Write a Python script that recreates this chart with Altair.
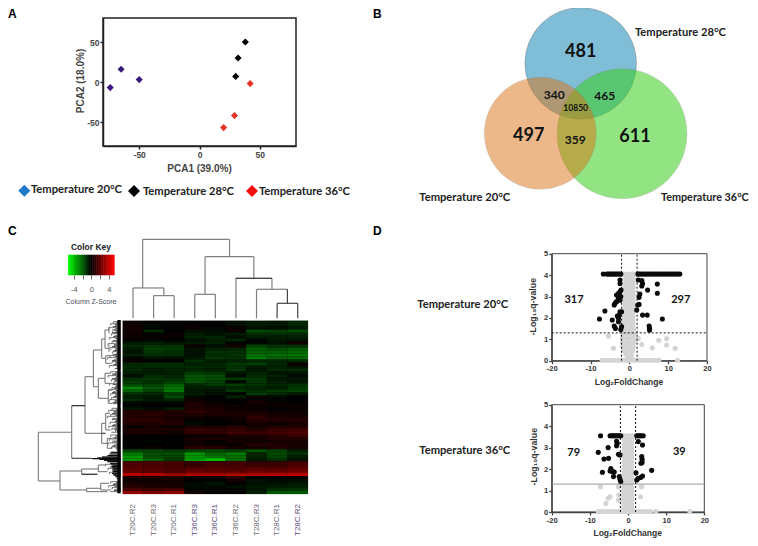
import altair as alt
import pandas as pd

W, H = 742, 530

# ---------- Panel A: PCA ----------
pca_t20 = [(-50, 3), (-65, 16), (-74, -7)]
pca_t28 = [(38, 50), (32, 30), (30, 7)]
pca_t36 = [(42, -2), (29, -42), (20, -57)]

# ---------- Panel C: heatmap ----------
samples = ["T20C.R2", "T20C.R3", "T20C.R1", "T36C.R3", "T36C.R1", "T36C.R2", "T28C.R3", "T28C.R1", "T28C.R2"]
sample_colors = ["#6f6a66", "#6f6a66", "#5f6f78", "#5b4a7a", "#5b4a7a", "#6a6a6a", "#6a6470", "#6a6470", "#5b4a7a"]
heat_rows = [
    [.2,0,0,0,0,-.3,-.5,-.5,-.8],
    [.3,-.2,-.1,.1,.1,-.3,-.6,-.5,-.8],
    [.4,-.1,0,.2,-.2,.2,-.4,-.3,-.6],
    [.4,-.8,0,-.3,-.3,.3,-1.5,-1.4,-1.6],
    [.3,.1,.2,-.6,-.4,-.6,-.9,-1,-.9],
    [.2,.2,.2,-.7,-.8,-.3,-.6,-.6,-.7],
    [.1,-.2,0,-.4,-.6,-.8,-.1,-.5,-.4],
    [-.5,-.7,-.5,-.5,-.7,-.1,-.1,-.4,.3],
    [-.9,-1.1,-1.1,.3,-.3,.4,-1.4,-1,-1],
    [-.6,-1.4,-1.2,-.4,-.7,-.8,-2,-1.6,-1.9],
    [-.4,-1.2,-1,-.4,-1,-1,-2,-2,-2.2],
    [-.7,-1,-1,-.3,-.9,-1.1,-2.3,-2.3,-2.4],
    [-.1,-.4,-.3,-.5,-1.2,-1,-2.6,-2,-2.2],
    [.2,.1,.1,-1,-.6,-.7,-.8,-.8,-.9],
    [-.8,-.9,-.9,-.7,-.8,-1.2,-1.4,-.8,.3],
    [-.9,-.9,-.9,-.9,-.8,-1,-.6,-.7,-.4],
    [-.9,-.6,-.8,-.8,-.7,-1.2,-.5,-.9,-.9],
    [-.7,-.6,-.7,-1.3,-1.1,-.5,-.8,-.4,-.5],
    [-.3,-.9,-.8,-1.8,-1.6,-.3,-.9,-.7,-.2],
    [-1,-1.2,-1,-1.8,-1.6,-1.2,-1.2,-.5,-.5],
    [-1.3,-1,-1.3,-1.7,-1.4,-.1,-1.2,-.7,-.4],
    [-1.5,-1.4,-2,-.8,-1.2,-1.3,-1,-.8,-1],
    [-2.8,-1.8,-2.5,-.6,-.6,-.8,-.8,-.6,-1.2],
    [-2,-1.4,-2.5,-.5,-.4,-1.2,-.9,-1.2,-1.4],
    [-1,-.8,-1.2,-.6,-.3,-.1,-1.3,-.9,-.6],
    [-.6,-.5,-1.6,-.2,0,-.7,.2,-.2,0],
    [-.9,-.5,-.8,.3,-.1,-.1,.2,-.1,0],
    [-.2,-.1,-.1,.6,.2,0,.5,.2,.1],
    [-.1,0,0,.7,.5,.2,.2,.3,.2],
    [-.4,-.2,-.6,.7,.6,.3,.3,.1,.2],
    [.8,.8,.7,1,.7,.5,.4,.2,.2],
    [.7,.9,.7,.6,.5,.6,.7,.5,.4],
    [.8,.7,.5,.4,.2,.4,1,.7,.6],
    [.9,.9,.7,-.1,.1,.3,.7,.7,.8],
    [.7,.7,.7,-.2,0,0,.5,.3,.5],
    [.2,.4,.2,.6,.5,.8,.4,.7,.7],
    [.6,.6,.6,1.2,1,1.1,.8,1.3,1.4],
    [.5,.6,.4,1,1.1,1.4,1.2,1.4,1.6],
    [.1,.1,.1,.2,.3,.6,.7,.9,1.2],
    [0,0,0,.5,.6,.4,.4,.7,.7],
    [0,-.1,0,.4,.1,.5,.3,.5,.5],
    [0,0,-.1,.4,.3,.2,.8,.7,.5],
    [.1,.2,.1,.9,.9,.5,.5,.7,.6],
    [-1.4,-1.4,-1.1,-1.3,-1.5,-1.2,-1.8,-1.3,-.6],
    [-2.5,-1.6,-1.6,-3,-2,-2.5,-.8,-1.5,-1],
    [-3,-1.6,-1.4,-3,-2.4,-2.2,-.7,-1.4,-.6],
    [-3,-2,-1.2,-3.2,-4,-2.2,-.5,-1,-.4],
    [1.5,1.5,1.4,1.1,1.3,1.4,1,1.1,1.4],
    [1.6,1.6,1.5,1.2,1.5,1.5,1.2,1.3,1.6],
    [1.8,1.8,1.5,1.7,1.8,1.6,1.8,1.8,2],
    [2,1.8,1.6,2.2,2,2,2.2,2.2,2.4],
    [3.8,3.8,3.2,3.6,3.6,3.6,3.6,3.8,4],
    [.5,.6,.6,.3,.4,.9,0,.1,.2],
    [.3,.3,.4,0,-.1,.4,-.3,-.2,-.2],
    [.5,.4,.4,-.2,-.4,0,-.3,-.3,-.5],
    [.8,.5,.5,-.2,-.2,-.3,-.5,-.6,-.6],
    [1.4,1.2,1.3,-.1,-.1,-.1,-.4,-.9,-1],
    [3,2.6,2.8,.4,.1,.1,-.6,-1.8,-1.8],
]
key_edges = [-5.25,-4.75,-4.25,-3.75,-3.25,-2.75,-2.25,-1.75,-1.25,-.75,-.25,.25,.75,1.25,1.75,2.25,2.75,3.25,3.75,4.25,4.75,5.25]

# column dendrogram: (pos1, height1, pos2, height2) in leaf position / merge height
col_tree = [
    (1.5,0,1.5,68),(2.5,0,2.5,68),(1.5,68,2.5,68),
    (0.5,0,0.5,91),(2,68,2,91),(0.5,91,2,91),
    (3.5,0,3.5,72),(4.5,0,4.5,72),(3.5,72,4.5,72),
    (4,72,4,185),(6.5,0,6.5,87),(6.5,87,8,87),
    (5.5,0,5.5,120),(7.25,87,7.25,120),(5.5,120,7.25,120),
    (6.37,120,6.37,185),(4,185,6.37,185),
    (0.97,91,0.97,237),(5.19,185,5.19,237),(0.97,237,5.19,237),
]
col_tree_dark = [(7.5,0,7.5,45),(8.5,0,8.5,45),(7.5,45,8.5,45),(8,45,8,87),(5.5,120,7.25,120)]

# row dendrogram: merges as (height1, pos1, height2, pos2)
row_tree = [
    (247,352,247,498),(247,352,147,352),(247,498,182,498),
    (147,272,147,430),(147,272,107,272),(107,185,107,355),(107,185,82,185),(107,355,57,355),
    (82,105,82,215),(82,105,57,105),(82,215,67,215),
    (57,72,57,130),(57,72,47,72),(57,130,45,130),
    (47,45,47,100),(47,45,35,45),(47,100,35,100),(35,35,35,55),(35,90,35,110),
    (45,122,45,145),(45,122,30,122),(45,145,30,145),
    (67,190,67,250),(67,190,47,190),(67,250,37,250),
    (47,175,47,205),(47,175,32,175),(47,205,32,205),
    (37,225,37,265),(37,225,25,225),(37,265,25,265),
    (57,325,57,385),(57,325,45,325),(57,385,40,385),
    (45,295,45,345),(45,295,32,295),(45,345,30,345),
    (40,370,40,400),(40,370,25,370),(40,400,25,400),
    (182,468,182,525),(182,468,117,468),(182,525,102,525),
    (117,462,117,478),(117,462,65,462),(117,478,70,478),
    (67,450,67,470),(67,450,45,450),(67,470,40,470),
    (102,520,102,530),(102,520,60,520),(102,530,40,530),
    (60,505,60,525),(60,505,35,505),(60,525,30,525),
]
row_tree_dark = [(147,430,87,430),(147,272,107,272),(117,478,70,478),(57,355,45,355)]
leaf_pos = [20,26,32,38,44,50,56,62,68,74,80,86,92,98,104,110,116,122,128,134,140,146,152,158,
            170,176,182,188,194,200,206,212,218,224,230,236,242,248,254,260,266,
            280,286,292,298,304,310,316,322,328,334,340,346,352,
            360,366,372,378,384,390,396,402,
            448,454,460,466,472,478,
            500,506,512,518,524,530]
leaf_height = [22,30,16,36,24,14,28,18,34,12,26,38,20,30,16,24,14,32,40,20,26,16,34,12,
               30,24,38,16,28,20,34,14,26,36,22,30,16,28,34,18,24,
               26,36,18,30,40,24,14,32,20,36,26,16,28,
               30,16,34,24,38,20,28,14,
               46,30,38,20,34,24,
               30,20,36,26,18,32]
leaf_pos2 = [23,29,35,41,47,53,59,65,71,77,83,89,95,101,107,113,119,125,131,137,143,149,155,161,
             173,179,185,191,197,203,209,215,221,227,233,239,245,251,257,263,
             283,289,295,301,307,313,319,325,331,337,343,349,
             363,369,375,381,387,393,399,405,
             451,457,463,469,475,481,503,509,515,521,527]
leaf_height2 = [14,18,24,16,20,26,12,22,16,24,14,20,26,16,22,12,24,18,14,26,16,22,12,18,
                16,22,14,26,18,12,24,16,20,14,26,16,22,12,18,24,
                14,22,26,16,12,24,18,14,26,16,20,12,
                16,24,12,20,14,26,16,12,
                22,28,18,24,16,20,14,24,18,12,20]
fan_pos = [412,417,422,426,429,431,433,436,440,445,450,455,460,465,470,475,480,485,490]
fan_height = [30,34,40,56,70,86,64,50,40,32,28,26,24,26,24,26,22,16,12]

# ---------- Panel D: volcano plots ----------
v1_band_neg = [-6.7,-5.8,-5.4,-5,-4.6,-4.2,-3.8,-3.4,-3,-2.6,-2.2]
v1_band_pos = [2.2,2.6,3,3.5,4,4.5,5,5.5,6,6.5,7,7.5,8,8.5,9,9.5,10,10.5,11,11.5,12,12.5,13]
v1_black = [(-2.4,3.77),(-2.4,3.61),(-2.15,3.3),(-2.4,3.22),(-2.8,3.15),(-3.3,3.07),(-2.2,3),(-2.8,2.91),(-2.4,2.83),
            (-3.3,2.76),(-3.7,2.68),(-3.9,2.6),(-6.3,2.32),(-2,2.29),(-2.4,2.29),(-2.6,2.13),(-3.1,2.09),(-2.8,1.98),
            (-7.7,1.95),(-4.4,1.9),(-2.8,1.82),(-3.9,1.62),(-3.6,1.51),(-2,1.59),(-2.2,1.46),
            (2.3,3.77),(3.2,3.74),(3.4,3.61),(3.2,3.49),(7.2,3.58),(4.7,3.3),(7.2,3.15),(2.7,3.12),(2.5,2.96),
            (2.5,2.63),(2.15,2.6),(1.9,2.37),(3.4,2.13),(4.6,2.13),(8.5,1.95),(5.1,1.62),(5.2,1.51),(5.2,1.43)]
v1_gray_out = [(-5.4,1.15),(-4.1,.58),(1.8,1),(2.3,1.04),(3.2,.76),(5.9,.6),(7.6,.95),(9.6,1.03),(9.6,.73),(11.8,.58),(7.6,.02),(12.4,.02)]
v1_top_gray = [-1.5,-.8,0,.8,1.5]
v1_base = [-7,-6.2,-5.4,-4.6,-3.8,-3,-2.2,-1.4,-.6,.2,1,1.8,2.6,3.4,4.2,5,5.8,6.6]
v1_cone = [(3.85,[-1,-.3,.4,1]),(3.65,[-1,-.3,.4,1]),(3.45,[-1.1,-.3,.4,1]),(3.25,[-1.1,-.3,.4,1]),(3.05,[-1.1,-.3,.4,1]),
           (2.85,[-1.2,-.4,.4,1]),(2.65,[-1.2,-.4,.4,1]),(2.45,[-1.3,-.4,.4,1]),(2.25,[-1.3,-.4,.4,1]),(2.05,[-1.4,-.5,.3,1]),
           (1.85,[-1.4,-.5,.3,1]),(1.65,[-1.5,-.6,.3,1]),(1.45,[-1.6,-.6,.3,1.1]),(1.25,[-1.7,-.7,.2,1.1]),(1.05,[-1.8,-.8,.1,1.1]),
           (.85,[-1.8,-.8,.1,1.1]),(.65,[-1.7,-.7,.1,1]),(.48,[-1.4,-.5,.2,.9]),(.33,[-.9,-.2,.5]),(.2,[-.5,.2,.5]),(.1,[-.2,.2])]

v2_band_neg = [-7.2,-4.7,-4.3,-3.9,-3.5,-3.1,-2.7,-2.3,-1.9]
v2_band_pos = [2.3,2.7,3.1,3.5,4]
v2_black = [(-3,3.3),(-2.8,3.2),(-3,3.09),(-5.2,3),(-7.8,2.78),(-2.5,2.69),(-2.1,2.66),(-5.1,2.5),(-6.3,2.47),(-6.7,1.85),
            (-4.5,2.03),(-4.7,1.91),(-4,1.88),(-3.6,1.86),(-3.8,1.65),(-2.3,1.65),(-2.1,1.52),(-1.9,1.41),
            (2.7,3.28),(3.8,3.12),(3.6,2.58),(3.7,2.45),(3.7,2.31),(3.4,2.27),(6.2,1.94),(2.1,1.83),(3.8,1.68),(3.3,1.61),(2.7,1.57),(2.3,1.49)]
v2_gray_out = [(-7.2,1.18),(3.6,1.18),(-2.5,1.18),(-2.4,.79),(3.3,.71),(-4.7,.71),(-5.2,.64),(-2.5,.56),(-5.8,.4),(7.3,.02),(16.2,.02),(-7.8,.02)]
v2_top_gray = [-1.5,-.8,0,.8,1.5]
v2_base = [-6.9,-6.1,-5.3,-4.5,-3.7,-2.9,-2.1,-1.3,-.5,.3,1.1,1.9,2.7,3.5,4.3,5.1,5.9]
v2_cone = [(3.35,[-1,-.3,.4,1]),(3.15,[-1,-.3,.4,1]),(2.95,[-1,-.3,.4,1]),(2.75,[-1,-.3,.4,1]),(2.55,[-1,-.3,.4,1]),
           (2.35,[-1,-.3,.4,1]),(2.15,[-1,-.3,.4,1]),(1.95,[-1.1,-.3,.4,1]),(1.75,[-1.1,-.3,.4,1]),(1.55,[-1.1,-.3,.4,1]),
           (1.35,[-1.1,-.3,.4,1]),(1.15,[-1.2,-.4,.4,1]),(.95,[-1.2,-.4,.4,1.1]),(.75,[-1.2,-.4,.4,1.1]),(.55,[-1.2,-.4,.4,1.1]),
           (.38,[-1.1,-.4,.4,1]),(.2,[-1.1,-.4,.4,1])]

# ---------- helpers ----------
def px(v):
    return v - 8

def sc(domain, a, b, **kw):
    return alt.Scale(domain=domain, range=[px(a), px(b)], nice=False, zero=False, **kw)

def txt(s, x, y, size=10, font="Liberation Sans", weight="normal", color="#000", angle=0, align="center"):
    return alt.Chart().mark_text(text=s, font=font, fontSize=size, fontWeight=weight, color=color,
                                 angle=angle, align=align, baseline="middle").encode(x=alt.value(px(x)), y=alt.value(px(y)))

def pts(rows, sx, sy, color, size, shape="circle"):
    df = pd.DataFrame(rows, columns=["x", "y"])
    return alt.Chart(df).mark_point(filled=True, shape=shape, color=color, size=size, opacity=1).encode(
        x=alt.X("x:Q", scale=sx, axis=None), y=alt.Y("y:Q", scale=sy, axis=None))

def segs(rows, sx, sy, color, width, dash=None):
    df = pd.DataFrame(rows, columns=["x1", "y1", "x2", "y2"])
    kw = {"strokeDash": dash} if dash else {}
    return alt.Chart(df).mark_rule(color=color, strokeWidth=width, **kw).encode(
        x=alt.X("x1:Q", scale=sx, axis=None), x2="x2:Q",
        y=alt.Y("y1:Q", scale=sy, axis=None), y2="y2:Q")

def frame(sx, sy, xd, yd, xticks, yticks, bottom, left, color, width, lab=8, labcolor="#333", tick=3, axw=1.2):
    df = pd.DataFrame([{"a": xd[0], "b": xd[1], "c": yd[0], "d": yd[1]}])
    common = dict(grid=False, labelFont="Liberation Sans", labelFontWeight="bold", labelFontSize=lab, labelColor=labcolor,
                  tickColor=color, domainColor=color, domainWidth=axw, tickWidth=axw, tickSize=tick, labelPadding=1,
                  title=None, labelExpr="'' + datum.value", labelFlush=False, labelOverlap=False)
    return alt.Chart(df).mark_rect(fillOpacity=0, stroke=color, strokeWidth=width).encode(
        x=alt.X("a:Q", scale=sx, axis=alt.Axis(values=xticks, orient="bottom", offset=-(H - px(bottom)), **common)),
        x2="b:Q",
        y=alt.Y("c:Q", scale=sy, axis=alt.Axis(values=yticks, orient="left", offset=-px(left), **common)),
        y2="d:Q")

layers = []

# ---------- A ----------
ax = sc([-80, 80], 103, 296)
ay = sc([-80, 80], 146, 18)
layers.append(frame(ax, ay, [-80, 80], [-80, 80], [-50, 0, 50], [-50, 0, 50], 146, 103, "#222", 1.5, lab=8.5, labcolor="#444", axw=1.5))
layers.append(pts(pca_t20, ax, ay, "#3b1a7e", 50, "diamond"))
layers.append(pts(pca_t28, ax, ay, "#000000", 50, "diamond"))
layers.append(pts(pca_t36, ax, ay, "#e8342a", 50, "diamond"))
layers.append(txt("PCA1 (39.0%)", 199.5, 169, 10, weight="bold", color="#444"))
layers.append(txt("PCA2 (18.0%)", 81, 81, 10, weight="bold", color="#444", angle=270))
for col, x, y in [("#1f78c8", 24.3, 190.7), ("#000000", 134, 191), ("#f00f0f", 252, 191)]:
    layers.append(alt.Chart().mark_point(filled=True, shape="diamond", color=col, size=144, opacity=1).encode(
        x=alt.value(px(x)), y=alt.value(px(y))))
layers.append(txt("Temperature 20°C", 31, 190, 11.2, "Lato", "bold", "#222", align="left"))
layers.append(txt("Temperature 28°C", 143, 191.5, 11.2, "Lato", "bold", "#222", align="left"))
layers.append(txt("Temperature 36°C", 259, 191.5, 11.2, "Lato", "bold", "#222", align="left"))
layers.append(txt("A", 8, 14, 12, weight="bold", align="left"))

# ---------- B ----------
def circ(x, y, r, color, op):
    return alt.Chart().mark_circle(color=color, opacity=op, stroke="#7a7a7a", strokeWidth=0.4, size=4 * r * r).encode(
        x=alt.value(px(x)), y=alt.value(px(y)))
layers.append(circ(580.7, 63.3, 55.8, "#80bdd6", 1))
layers.append(circ(622, 133.7, 65, "#3acf1f", 0.55))
layers.append(circ(540.3, 133.3, 56, "#db7315", 0.5))
for s, x, y, size in [("481", 580.7, 51.7, 18), ("497", 528.7, 136, 18), ("611", 635, 136.7, 18),
                      ("340", 554.3, 94.7, 12), ("465", 604.7, 96, 12), ("359", 575.3, 140, 12), ("10850", 575.7, 108, 8.5)]:
    layers.append(txt(s, x, y, size, "Lato", "bold", "#111"))
layers.append(txt("Temperature 28°C", 635, 33, 11.2, "Lato", "bold", "#222", align="left"))
layers.append(txt("Temperature 20°C", 419.3, 198, 11.2, "Lato", "bold", "#222", align="left"))
layers.append(txt("Temperature 36°C", 661, 198, 10.8, "Lato", "bold", "#222", align="left"))
layers.append(txt("B", 373, 14, 12, weight="bold", align="left"))

# ---------- C ----------
cscale = alt.Scale(domain=[-5.25, 0, 5.25], range=["#00ff00", "#000000", "#ff0000"], interpolate="rgb")
hx = sc([0, 9], 122.7, 308)
hy = sc([0, len(heat_rows)], 320.7, 494)
cells = [{"c0": c, "c1": c + 1, "r0": r, "r1": r + 1, "v": v}
         for r, row in enumerate(heat_rows) for c, v in enumerate(row)]
layers.append(alt.Chart(pd.DataFrame([{"a": 0, "b": 9, "c": 0, "d": len(heat_rows)}])).mark_rect(color="#000", stroke="#cfcfcf", strokeWidth=1).encode(
    x=alt.X("a:Q", scale=hx, axis=None), x2="b:Q", y=alt.Y("c:Q", scale=hy, axis=None), y2="d:Q"))
layers.append(alt.Chart(pd.DataFrame(cells)).mark_rect().encode(
    x=alt.X("c0:Q", scale=hx, axis=None), x2="c1:Q", y=alt.Y("r0:Q", scale=hy, axis=None), y2="r1:Q",
    color=alt.Color("v:Q", scale=cscale, legend=None)))
# column dendrogram
dx = sc([0, 9], 122.7, 308)
dy = sc([0, 237], 318.3, 239.3)
layers.append(segs(col_tree, dx, dy, "#808080", 1.2))
layers.append(segs(col_tree_dark, dx, dy, "#444", 1.2))
# row dendrogram
rx = sc([272, 0], 30, 120.7)
ry = sc([15, 535], 320, 493.3)
leaf_segs = []
for i, (p, h) in enumerate(zip(leaf_pos, leaf_height)):
    leaf_segs.append((h, p, 0, p))
    if i + 1 < len(leaf_pos) and leaf_pos[i + 1] - p <= 6:
        leaf_segs.append((h, p, h, leaf_pos[i + 1]))
layers.append(segs(leaf_segs, rx, ry, "#555", 0.8))
layers.append(segs([(h, p, 0, p) for p, h in zip(leaf_pos2, leaf_height2)], rx, ry, "#222", 0.8))
layers.append(segs(row_tree, rx, ry, "#7a7a7a", 1.1))
layers.append(segs(row_tree_dark, rx, ry, "#333", 1.1))
fan = [(h, p, 0, p) for p, h in zip(fan_pos, fan_height)]
layers.append(segs(fan, rx, ry, "#000", 1.2))
layers.append(alt.Chart(pd.DataFrame([{"a": 10, "b": 0, "c": 15, "d": 535}])).mark_rect(color="#000").encode(
    x=alt.X("a:Q", scale=rx, axis=None), x2="b:Q", y=alt.Y("c:Q", scale=ry, axis=None), y2="d:Q"))
# sample labels
lx = sc([0, 9], 122.7, 308)
ly = sc([0, 1], 540, 500)
lab_df = pd.DataFrame({"pos": [i + 0.5 for i in range(9)], "name": samples, "col": sample_colors, "yy": [0.5] * 9})
layers.append(alt.Chart(lab_df).mark_text(angle=270, fontSize=8, font="Liberation Sans", baseline="middle", align="center").encode(
    x=alt.X("pos:Q", scale=lx, axis=None), y=alt.Y("yy:Q", scale=ly, axis=None),
    text="name:N", color=alt.Color("col:N", scale=None)))
# colour key
kx = sc([-5.25, 5.25], 68.3, 114.3)
ky = sc([0, 1], 275, 255)
key_df = pd.DataFrame({"a": key_edges[:-1], "b": key_edges[1:], "v": [(p + q) / 2 for p, q in zip(key_edges[:-1], key_edges[1:])], "c": [0] * 21, "d": [1] * 21})
layers.append(alt.Chart(key_df).mark_rect(strokeWidth=0.6).encode(
    x=alt.X("a:Q", scale=kx, axis=alt.Axis(values=[-4, -2, 0, 2, 4], orient="bottom", offset=-(H - px(275)), domain=False, grid=False,
                                           tickSize=4, tickColor="#444", tickWidth=0.8, labelFontSize=7.5, labelFont="Liberation Sans", labelColor="#555",
                                           labelPadding=6, title=None, labelOverlap=False,
                                           labelExpr="abs(datum.value)==2 ? '' : '' + datum.value")),
    x2="b:Q", y=alt.Y("c:Q", scale=ky, axis=None), y2="d:Q",
    color=alt.Color("v:Q", scale=cscale, legend=None),
    stroke=alt.Stroke("v:Q", scale=cscale, legend=None)))
layers.append(txt("Color Key", 91, 246.7, 8.5, weight="bold", color="#222"))
layers.append(txt("Column Z-Score", 91, 301.7, 7, color="#4a4a5a"))
layers.append(txt("C", 8, 231, 12, weight="bold", align="left"))

# ---------- D ----------
def volcano(xl, xr, yb, yt, band_neg, band_pos, band_y, black, gray_out, top_gray, base, cone, solid_h):
    sx = sc([-20, 20], xl, xr)
    sy = sc([0, 5], yb, yt)
    out = [frame(sx, sy, [-20, 20], [0, 5], [-20, -10, 0, 10, 20], [0, 1, 2, 3, 4, 5], yb, xl, "#444", 1, lab=7.5, labcolor="#333", axw=1.3)]
    gray = [(x, y) for y, xs in cone for x in xs] + gray_out + [(x, 0.02) for x in base]
    out.append(pts(gray, sx, sy, "#d4d4d4", 26))
    out.append(pts([(x, band_y) for x in top_gray], sx, sy, "#d4d4d4", 26))
    out.append(pts(black + [(x, band_y) for x in band_neg + band_pos], sx, sy, "#0a0a0a", 26))
    if solid_h:
        out.append(segs([(-20, 1.3, 20, 1.3)], sx, sy, "#999", 1))
    else:
        out.append(segs([(-20, 1.3, 20, 1.3)], sx, sy, "#111", 1, [2, 2]))
    out.append(segs([(-2, 0, -2, 5), (2, 0, 2, 5)], sx, sy, "#111", 1, [2, 2]))
    return out

layers += volcano(551.7, 707, 360.7, 253.7, v1_band_neg, v1_band_pos, 4.05, v1_black, v1_gray_out, v1_top_gray, v1_base, v1_cone, False)
layers += volcano(551.7, 704.3, 512, 404.7, v2_band_neg, v2_band_pos, 3.55, v2_black, v2_gray_out, v2_top_gray, v2_base, v2_cone, True)
for s, x, y in [("317", 574, 300), ("297", 680.7, 300.3), ("79", 573.7, 453), ("39", 679.3, 451.7)]:
    layers.append(txt(s, x, y, 11, "Lato", "bold", "#111"))
layers.append(txt("Temperature 20°C", 417.3, 305.3, 11.2, "Lato", "bold", "#222", align="left"))
layers.append(txt("Temperature 36°C", 419.3, 451, 11.2, "Lato", "bold", "#222", align="left"))
layers.append(txt("Log₂FoldChange", 629, 381.5, 8.5, weight="bold", color="#333"))
layers.append(txt("Log₂FoldChange", 627.7, 532.7, 8.5, weight="bold", color="#333"))
layers.append(txt("-Log₁₀q-value", 533.3, 306.7, 8.8, weight="bold", color="#333", angle=270))
layers.append(txt("-Log₁₀q-value", 534.3, 456.7, 8.8, weight="bold", color="#333", angle=270))
layers.append(txt("D", 373, 231, 12, weight="bold", align="left"))

chart = alt.layer(*layers).resolve_scale(x="independent", y="independent", color="independent", stroke="independent").properties(
    width=W, height=H, padding=0, autosize=alt.AutoSizeParams(type="none")
).configure_view(stroke=None)

chart.save("out.html", embed_options={"renderer": "svg", "actions": False})
